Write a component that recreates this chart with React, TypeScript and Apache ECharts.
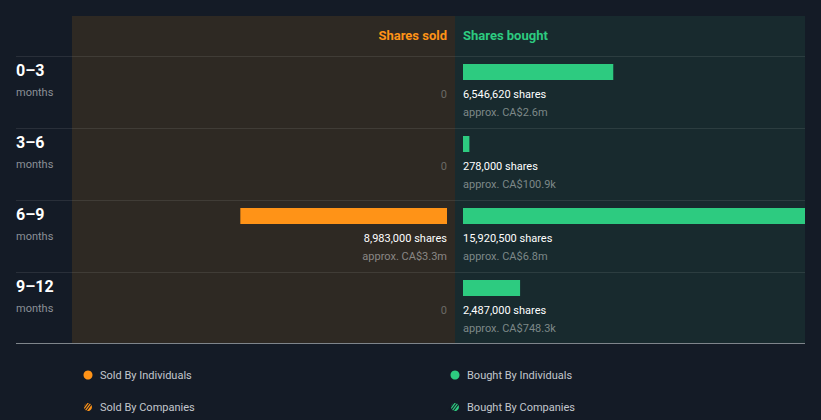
import React, { useEffect, useRef } from 'react';
import * as echarts from 'echarts';

const categories = ['0–3', '3–6', '6–9', '9–12'];
const rowUnit = 'months';
const soldShares = [0, 0, 8983000, 0];
const soldApprox = ['', '', 'approx. CA$3.3m', ''];
const boughtShares = [6546620, 278000, 15920500, 2487000];
const boughtApprox = ['approx. CA$2.6m', 'approx. CA$100.9k', 'approx. CA$6.8m', 'approx. CA$748.3k'];
const SOLD_AXIS_MAX = 16300000;
const BOUGHT_AXIS_MAX = 14900000;
const legendItems = ['Sold By Individuals', 'Bought By Individuals', 'Sold By Companies', 'Bought By Companies'];

const ORANGE = '#FF9317';
const GREEN = '#2DCB80';
const FONT = 'Roboto, "Noto Sans", sans-serif';

function fmt(n: number) {
  return n.toLocaleString('en-US') + ' shares';
}

function txt(text: string, x: number, y: number, size: number, fill: string, align: string, weight: string = 'normal') {
  return {
    type: 'text',
    style: { text, x, y, fill, fontSize: size, fontFamily: FONT, fontWeight: weight, align, verticalAlign: 'middle' },
  };
}

export default function App() {
  const ref = useRef<HTMLDivElement>(null);
  useEffect(() => {
    if (!ref.current) return;
    const chart = echarts.init(ref.current, null, { renderer: 'svg' });

    const makeRender = (side: 'sold' | 'bought') => (params: any, api: any) => {
      const idx = api.value(1);
      const val = api.value(0);
      const base = api.coord([0, idx]);
      const end = api.coord([val, idx]);
      const band = api.size([0, 1])[1];
      const top = base[1] - band / 2;
      const cs = params.coordSys;
      const children: any[] = [];
      const align = side === 'sold' ? 'right' : 'left';
      const color = side === 'sold' ? ORANGE : GREEN;
      const approx = side === 'sold' ? soldApprox[idx] : boughtApprox[idx];
      if (side === 'sold') {
        children.push(txt(categories[idx], 16, top + 14.5, 16, '#ffffff', 'left', 'bold'));
        children.push(txt(rowUnit, 16, top + 36, 11, '#8b9097', 'left'));
      }
      if (val > 0) {
        let x0: number, w: number;
        if (side === 'sold') {
          x0 = Math.max(end[0], cs.x);
          w = base[0] - x0;
        } else {
          x0 = base[0];
          w = Math.min(end[0], cs.x + cs.width) - x0;
        }
        children.push({ type: 'rect', shape: { x: x0, y: top + 8, width: w, height: 16 }, style: { fill: color } });
        children.push(txt(fmt(val), base[0], top + 38, 11, '#ffffff', align));
        children.push(txt(approx, base[0], top + 56, 11, side === 'sold' ? '#8a8785' : '#7d8888', align));
      } else {
        children.push(txt('0', base[0], top + 38, 11, '#6b6966', align));
      }
      return { type: 'group', children };
    };

    const lines: any[] = [56, 128, 200, 272].map((y) => ({
      type: 'line',
      shape: { x1: 16, y1: y + 0.5, x2: 805, y2: y + 0.5 },
      style: { stroke: 'rgba(255,255,255,0.09)', lineWidth: 1 },
      z: 1,
    }));

    const legendPos = [
      [88, 375, ORANGE, false],
      [455, 375, GREEN, false],
      [88, 407, ORANGE, true],
      [455, 407, GREEN, true],
    ];
    const legendEls: any[] = [];
    legendItems.forEach((name, i) => {
      const [x, y, c, striped] = legendPos[i] as [number, number, string, boolean];
      if (!striped) {
        legendEls.push({ type: 'circle', shape: { cx: x, cy: y, r: 4.5 }, style: { fill: c }, z: 2 });
      } else {
        legendEls.push({ type: 'circle', shape: { cx: x, cy: y, r: 4 }, style: { fill: c }, z: 2 });
        [-2.2, 0.6, 3.4].forEach((o) => {
          legendEls.push({
            type: 'line',
            shape: { x1: x - 4 + o - 1, y1: y + 4, x2: x + o + 1, y2: y - 4 },
            style: { stroke: '#141b26', lineWidth: 1.1 },
            z: 3,
          });
        });
      }
      legendEls.push({ ...txt(name, x + 12, y, 11, '#c3c7cd', 'left'), z: 2 });
    });

    chart.setOption({
      animation: false,
      backgroundColor: '#141b26',
      grid: [
        { left: 72, width: 375, top: 56, height: 288 },
        { left: 463, width: 342, top: 56, height: 288 },
      ],
      xAxis: [
        { type: 'value', gridIndex: 0, min: 0, max: SOLD_AXIS_MAX, inverse: true, show: false },
        { type: 'value', gridIndex: 1, min: 0, max: BOUGHT_AXIS_MAX, show: false },
      ],
      yAxis: [
        { type: 'category', gridIndex: 0, data: categories, inverse: true, show: false },
        { type: 'category', gridIndex: 1, data: categories, inverse: true, show: false },
      ],
      graphic: [
        { type: 'rect', shape: { x: 72, y: 16, width: 383, height: 327 }, style: { fill: '#2e2923' }, z: 0 },
        { type: 'rect', shape: { x: 455, y: 16, width: 350, height: 327 }, style: { fill: '#182a2e' }, z: 0 },
        ...lines,
        { type: 'line', shape: { x1: 16, y1: 343.5, x2: 805, y2: 343.5 }, style: { stroke: '#7f858b', lineWidth: 1 }, z: 1 },
        { ...txt('Shares sold', 447, 35, 13, ORANGE, 'right', 'bold'), z: 2 },
        { ...txt('Shares bought', 463, 35, 13, GREEN, 'left', 'bold'), z: 2 },
        ...legendEls,
      ],
      series: [
        {
          type: 'custom',
          xAxisIndex: 0,
          yAxisIndex: 0,
          clip: false,
          renderItem: makeRender('sold'),
          encode: { x: 0, y: 1 },
          data: soldShares.map((v, i) => [v, i]),
        },
        {
          type: 'custom',
          xAxisIndex: 1,
          yAxisIndex: 1,
          clip: false,
          renderItem: makeRender('bought'),
          encode: { x: 0, y: 1 },
          data: boughtShares.map((v, i) => [v, i]),
        },
      ],
    });
    return () => chart.dispose();
  }, []);
  return <div ref={ref} style={{ position: 'absolute', left: 0, top: 0, width: 821, height: 420 }} />;
}
